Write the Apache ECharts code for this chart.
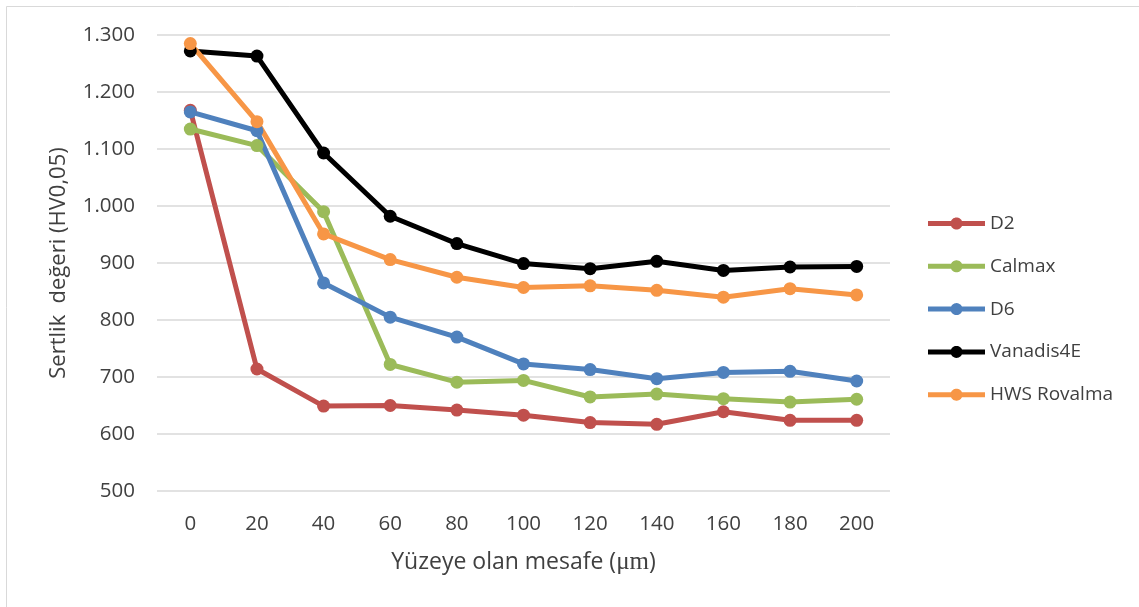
<!DOCTYPE html>
<html>
<head>
<meta charset="utf-8">
<script src="https://cdn.jsdelivr.net/npm/echarts@6/dist/echarts.min.js"></script>
<style>
  html, body { margin: 0; padding: 0; background: #fff; }
  #chart { width: 1139px; height: 607px; }
</style>
</head>
<body>
<div id="chart"></div>
<script>
// distance from surface (µm)
const distances = ['0', '20', '40', '60', '80', '100', '120', '140', '160', '180', '200']

// hardness values (HV0,05)
const d2 = [1168, 714, 649, 650, 642, 633, 620, 617, 639, 624, 624]
const calmax = [1135, 1106, 990, 722, 691, 694, 665, 670, 662, 656, 661]
const d6 = [1165, 1132, 865, 805, 770, 723, 713, 697, 708, 710, 693]
const vanadis4e = [1272, 1263, 1093, 982, 934, 899, 890, 903, 887, 893, 894]
const hwsRovalma = [1285, 1148, 951, 906, 875, 857, 860, 852, 840, 855, 844]

const seriesNames = ['D2', 'Calmax', 'D6', 'Vanadis4E', 'HWS Rovalma']
const seriesData = [d2, calmax, d6, vanadis4e, hwsRovalma]
const seriesColors = ['#C0504D', '#9BBB59', '#4F81BD', '#000000', '#F79646']

const textColor = '#404040'
const fontFamily = '"Open Sans", "Noto Sans", sans-serif'

// thick line with a dot in the middle, like the excel legend (57 x 12 box)
const makeLegendIcon = () => {
    const w = 57, cx = 28.5, cy = 6, r = 6, half = 2.5
    const a = Math.asin(half / r) * 180 / Math.PI
    const pt = (deg) => {
        const t = deg * Math.PI / 180
        return (cx + r * Math.cos(t)).toFixed(3) + ',' + (cy + r * Math.sin(t)).toFixed(3)
    }
    const arc = (from, to) => {
        const pts = []
        for (let d = from; d < to; d += 5) pts.push(pt(d))
        pts.push(pt(to))
        return pts.map(p => 'L' + p).join(' ')
    }
    let p = 'M0,' + (cy - half) + ' '
    p += arc(180 + a, 360 - a) + ' '
    p += 'L' + w + ',' + (cy - half) + ' L' + w + ',' + (cy + half) + ' '
    p += arc(a, 180 - a) + ' '
    p += 'L0,' + (cy + half) + ' Z'
    return 'path://' + p
}

const chart = echarts.init(document.getElementById('chart'))

const option = {
    animation: false,
    backgroundColor: '#fff',
    textStyle: {fontFamily: fontFamily},
    graphic: [
        {
            type: 'rect',
            shape: {x: 6.5, y: 6.5, width: 1200, height: 700},
            style: {fill: 'none', stroke: '#d9d9d9', lineWidth: 1},
            silent: true
        }
    ],
    grid: {left: 157, right: 249, top: 35, bottom: 116},
    legend: {
        orient: 'vertical',
        left: 928,
        top: 214,
        padding: 0,
        icon: makeLegendIcon(),
        itemWidth: 57,
        itemHeight: 12,
        itemGap: 23.8,
        textStyle: {color: textColor, fontSize: 19, fontFamily: fontFamily},
        data: seriesNames
    },
    xAxis: {
        type: 'category',
        data: distances,
        boundaryGap: true,
        name: 'Yüzeye olan mesafe ({mu|μm})',
        nameLocation: 'middle',
        nameGap: 59,
        nameTextStyle: {
            color: textColor,
            fontSize: 23,
            rich: {
                mu: {fontFamily: '"Liberation Serif", "DejaVu Serif", serif', fontSize: 25, color: textColor}
            }
        },
        axisLine: {show: false},
        axisTick: {show: false},
        axisLabel: {color: textColor, fontSize: 20.5, margin: 23}
    },
    yAxis: {
        type: 'value',
        min: 500,
        max: 1300,
        interval: 100,
        name: 'Sertlik  değeri (HV0,05)',
        nameLocation: 'middle',
        nameGap: 87,
        nameTextStyle: {color: textColor, fontSize: 22},
        axisLine: {show: false},
        axisTick: {show: false},
        splitLine: {lineStyle: {color: '#d9d9d9', width: 1.5}},
        axisLabel: {
            color: textColor,
            fontSize: 20.5,
            margin: 22,
            formatter: (v) => String(v).replace(/\B(?=(\d{3})+(?!\d))/g, '.')
        }
    },
    series: seriesNames.map((name, i) => ({
        name: name,
        type: 'line',
        data: seriesData[i],
        color: seriesColors[i],
        symbol: 'circle',
        symbolSize: 13,
        lineStyle: {width: 5, color: seriesColors[i]},
        itemStyle: {color: seriesColors[i]}
    }))
}

chart.setOption(option)
</script>
</body>
</html>
